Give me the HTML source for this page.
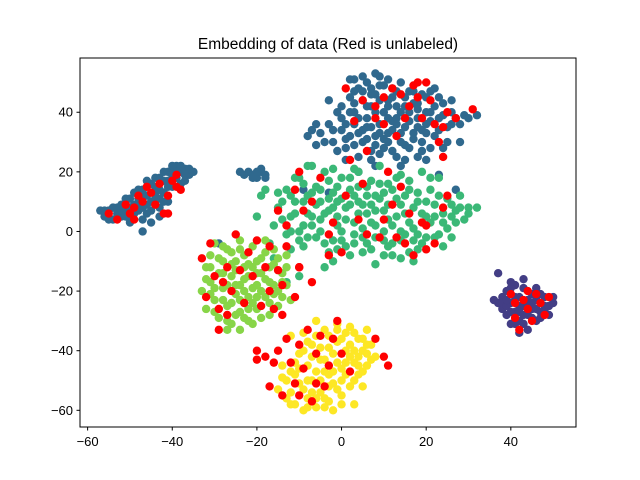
<!DOCTYPE html>
<html><head><meta charset="utf-8"><style>
body{margin:0;background:#fff}
svg{display:block;font-family:"Liberation Sans","DejaVu Sans",sans-serif}
</style></head><body>
<svg id="chart" width="640" height="480">
<rect width="640" height="480" fill="#fff"/>
<text x="328" y="49" text-anchor="middle" font-size="15.5">Embedding of data (Red is unlabeled)</text>
<g id="marks"></g>
<rect x="80" y="58" width="496" height="369" fill="none" stroke="#000" stroke-width="1"/>
<g id="axes"></g>
</svg>
<script>
const xTicks=[-60,-40,-20,0,20,40];
const yTicks=[40,20,0,-20,-40,-60];
const clusterNames=['top-blue','left-blue','small-blue','green','yellow-green','yellow','purple'];
const clusterColors=['#30698e','#30698e','#30698e','#3bb877','#88d548','#fde725','#433e85'];
const topBlue=[[-8,32],[-5,33],[-3,36],[-2,30],[0,34],[0,38],[0,42],[1,28],[2,45],[2,32],[3,36],[3,40],[4,48],[4,25],[5,30],[5,34],[5,44],[6,38],[6,50],[7,27],[7,42],[8,32],[8,46],[8,22],[9,36],[9,52],[10,40],[10,28],[11,44],[11,33],[12,48],[12,37],[13,25],[13,42],[14,30],[14,50],[15,35],[15,45],[16,40],[16,28],[17,47],[17,33],[18,38],[18,43],[19,30],[20,45],[20,36],[21,40],[22,32],[22,48],[23,38],[24,43],[24,28],[25,35],[26,40],[27,38],[29,39],[32,39],[28,30],[-3,44],[1,24],[4,20],[20,24],[23,19],[27,14],[-3,13],[-9,14],[-1,40],[6,35],[11,30],[15,24],[9,49],[3,51],[-6,36],[13,38],[19,34],[21,28],
[-4,30],[-2,34],[-1,27],[1,31],[1,36],[2,40],[3,29],[3,43],[4,33],[4,38],[5,47],[6,31],[6,42],[7,35],[7,46],[8,29],[8,40],[9,33],[9,44],[10,31],[10,49],[11,38],[11,42],[12,27],[12,34],[12,45],[13,36],[13,47],[14,33],[14,40],[15,29],[15,42],[16,37],[16,47],[17,31],[17,43],[18,35],[18,41],[19,46],[19,27],[20,33],[20,40],[21,37],[21,47],[22,42],[23,34],[23,45],[24,39],[25,30],[26,36],[26,44],[28,36],[30,38],[7,24],[9,26],[14,22],[18,25],[-6,29],[-7,34],[2,51],[5,52],[8,53],[11,51],[7,48],[3,47]];
const leftBlue=[[-57,7],[-56,5],[-55,7],[-54,4],[-54,8],[-53,6],[-52,9],[-52,5],[-51,7],[-50,11],[-50,5],[-49,9],[-49,13],[-48,7],[-48,11],[-47,14],[-47,4],[-46,9],[-46,12],[-45,16],[-45,7],[-44,11],[-44,15],[-43,18],[-43,8],[-42,13],[-42,17],[-41,20],[-41,10],[-40,15],[-40,21],[-39,18],[-39,22],[-38,20],[-38,16],[-37,21],[-36,19],[-35,20],[-43,5],[-47,0],[-45,3],[-50,3],
[-56,7],[-55,4],[-53,8],[-52,7],[-51,5],[-51,11],[-50,8],[-49,6],[-48,9],[-48,14],[-47,8],[-47,12],[-46,6],[-46,17],[-45,10],[-44,13],[-44,18],[-43,11],[-43,14],[-42,10],[-42,20],[-41,15],[-41,17],[-40,19],[-40,22],[-39,20],[-38,22],[-37,19],[-36,21],[-37,17]];
const smallBlue=[[-22,20],[-21,19],[-19,20],[-20,18],[-18,19],[-24,20],[-19,21],[-29,-4],[-23,19],[-20,20],[-18,18],[-21,18]];
const green=[[-17,-4],[-16,2],[-15,8],[-15,13],[-13,-1],[-13,14],[-12,5],[-11,10],[-10,0],[-10,18],[-9,-5],[-8,6],[-8,12],[-7,22],[-6,-2],[-6,15],[-5,4],[-5,10],[-4,20],[-3,-7],[-3,7],[-2,13],[-1,2],[0,18],[0,-3],[1,8],[2,14],[2,-8],[3,3],[4,20],[4,10],[5,-2],[6,6],[6,15],[7,-6],[8,2],[8,12],[9,22],[10,-3],[10,7],[11,16],[12,-8],[12,2],[13,11],[14,-3],[14,19],[15,6],[16,-7],[16,14],[17,1],[18,10],[19,-4],[19,20],[20,5],[21,14],[22,-2],[22,9],[23,18],[24,3],[25,11],[26,-2],[27,7],[28,12],[29,4],[30,8],[32,8],[-16,-9],[-10,-15],[-13,-17],[-2,-10],[8,-11],[17,-10],[24,-5],[-18,14],[-20,5],[-19,12],[-12,-6],[-4,-12],[3,-4],[7,9],[11,-5],[-1,10],[18,-1],[26,5],[-7,2],
[-14,4],[-14,10],[-12,0],[-12,12],[-11,6],[-10,-3],[-9,2],[-9,10],[-9,16],[-8,-2],[-7,5],[-7,13],[-6,9],[-5,0],[-5,14],[-4,-4],[-4,6],[-3,11],[-3,17],[-2,-3],[-2,8],[-1,5],[-1,15],[0,0],[0,11],[1,-5],[1,4],[2,9],[2,18],[3,-1],[3,12],[4,6],[4,15],[5,1],[5,9],[6,-4],[6,12],[7,3],[7,17],[8,-2],[8,7],[9,11],[9,16],[10,0],[10,13],[11,4],[11,9],[12,-4],[12,14],[13,5],[13,18],[14,0],[14,9],[15,-1],[15,12],[16,3],[16,17],[17,-3],[17,8],[18,13],[18,-6],[19,6],[20,10],[20,-2],[21,3],[21,18],[22,5],[23,12],[23,-1],[24,6],[25,1],[26,9],[27,3],[28,8],[30,6],[-1,-6],[5,-7],[10,-8],[14,-9],[3,21],[-11,18],[-8,22],[-2,21]];
const yellowGreen=[[-33,-20],[-32,-12],[-32,-26],[-31,-8],[-31,-17],[-30,-23],[-29,-14],[-29,-29],[-28,-10],[-28,-19],[-27,-25],[-27,-6],[-26,-15],[-26,-31],[-25,-21],[-25,-10],[-24,-27],[-24,-3],[-23,-16],[-23,-8],[-22,-22],[-22,-30],[-21,-12],[-21,-5],[-20,-18],[-20,-26],[-19,-9],[-19,-14],[-18,-22],[-18,-3],[-17,-17],[-17,-28],[-16,-11],[-16,-6],[-15,-20],[-15,-25],[-14,-14],[-13,-8],[-13,-18],[-12,-23],[-27,-33],[-24,-33],[-30,-4],[-21,-31],[-25,-18],[-20,-22],[-23,-12],
[-31,-12],[-30,-19],[-30,-27],[-29,-9],[-28,-23],[-28,-14],[-27,-18],[-27,-30],[-26,-7],[-26,-24],[-25,-13],[-25,-28],[-24,-6],[-24,-18],[-24,-23],[-23,-20],[-23,-29],[-22,-11],[-22,-15],[-22,-26],[-21,-19],[-21,-24],[-20,-10],[-20,-14],[-19,-20],[-19,-29],[-18,-7],[-18,-16],[-17,-12],[-17,-24],[-16,-18],[-16,-21],[-15,-9],[-14,-22],[-14,-17],[-13,-12],[-26,-11],[-28,-5],[-32,-16],[-31,-21]];
const yellow=[[-15,-53],[-13,-56],[-12,-47],[-11,-58],[-10,-41],[-10,-51],[-9,-34],[-8,-45],[-8,-56],[-7,-38],[-7,-50],[-6,-59],[-5,-43],[-5,-54],[-4,-33],[-4,-47],[-3,-39],[-3,-57],[-2,-51],[-1,-31],[-1,-44],[0,-36],[0,-55],[1,-48],[1,-40],[2,-32],[2,-52],[3,-44],[4,-36],[4,-48],[5,-40],[5,-52],[6,-33],[6,-45],[7,-38],[8,-42],[-14,-45],[-12,-35],[-6,-30],[3,-58],[-2,-60],[-9,-60],[-3,-48],[2,-42],
[-13,-50],[-12,-54],[-11,-44],[-11,-48],[-10,-46],[-9,-40],[-9,-53],[-8,-37],[-8,-50],[-7,-42],[-7,-54],[-6,-35],[-6,-47],[-6,-56],[-5,-39],[-5,-50],[-4,-43],[-4,-56],[-3,-35],[-3,-52],[-2,-41],[-2,-47],[-1,-37],[-1,-53],[0,-46],[0,-50],[1,-34],[1,-44],[2,-38],[3,-34],[3,-40],[3,-50],[4,-42],[4,-45],[5,-36],[6,-41],[6,-38],[-14,-49],[-12,-58],[-8,-59],[-4,-59],[0,-58],[-1,-33],[5,-47],[7,-43]];
const purple=[[37,-24],[38,-22],[38,-26],[39,-20],[39,-28],[40,-24],[40,-31],[41,-18],[41,-27],[42,-22],[42,-30],[43,-25],[43,-19],[44,-28],[44,-33],[45,-21],[45,-26],[46,-30],[46,-23],[47,-27],[48,-22],[48,-25],[49,-28],[50,-24],[37,-14],[42,-34],
[38,-24],[39,-25],[39,-23],[40,-27],[40,-19],[41,-22],[41,-31],[42,-25],[42,-27],[43,-28],[43,-31],[44,-23],[44,-24],[45,-24],[45,-29],[46,-26],[47,-21],[47,-29],[48,-27],[49,-25],[50,-22],[36,-23],[40,-17],[43,-16],[46,-19]];
const unlabeled=[[3,37],[5,44],[10,45],[12,48],[14,46],[17,49],[18,45],[18,50],[20,50],[21,44],[19,38],[22,36],[24,35],[25,40],[27,38],[31,41],[23,30],[24,25],[15,38],[8,38],[10,36],[13,32],[8,42],[6,27],[2,24],[11,20],[1,48],[16,42],
[-55,6],[-53,4],[-51,9],[-50,6],[-49,8],[-48,12],[-47,10],[-46,15],[-45,13],[-44,9],[-43,16],[-42,6],[-41,12],[-40,17],[-39,19],[-38,14],[-41,6],[-49,4],[-39,15],
[-17,-5],[-15,7],[-13,2],[-11,14],[-9,7],[-7,10],[-5,18],[-2,3],[1,12],[0,-7],[4,4],[6,-1],[5,16],[9,-2],[10,4],[12,9],[13,-2],[14,15],[15,-4],[16,6],[17,-8],[19,3],[20,2],[22,-4],[24,8],[25,12],[20,-6],[-3,-8],[-10,-12],[-14,-18],[-7,-17],[-3,-1],[-10,20],
[-33,-9],[-31,-4],[-30,-15],[-32,-22],[-29,-26],[-28,-17],[-27,-12],[-26,-20],[-25,-1],[-24,-13],[-23,-24],[-22,-7],[-21,-15],[-20,-3],[-19,-25],[-18,-12],[-17,-20],[-16,-26],[-15,-13],[-14,-28],[-13,-5],[-11,-22],[-10,-12],[-27,-28],[-29,-33],
[-17,-52],[-16,-44],[-15,-40],[-14,-55],[-13,-36],[-12,-44],[-11,-51],[-10,-38],[-9,-46],[-8,-33],[-7,-57],[-6,-41],[-5,-35],[-4,-52],[-3,-45],[-2,-36],[0,-41],[2,-47],[-6,-51],[-18,-42],[-20,-40],[-20,-43],[-10,-55],[10,-42],[11,-45],[8,-36],[-1,-30],
[40,-21],[41,-29],[42,-33],[43,-23],[44,-26],[45,-30],[46,-21],[47,-24],[48,-28],[49,-22],[41,-24],[44,-20]];
const clusters=[topBlue,leftBlue,smallBlue,green,yellowGreen,yellow,purple];

const X0=80,X1=576,Y0=58,Y1=427,XMIN=-61.8,XMAX=55.4,YMIN=-65.6,YMAX=58.2;
function sx(v){return X0+(v-XMIN)/(XMAX-XMIN)*(X1-X0);}
function sy(v){return Y1-(v-YMIN)/(YMAX-YMIN)*(Y1-Y0);}
const NS='http://www.w3.org/2000/svg';
const marks=document.getElementById('marks');
function dot(p,color,name){
  const c=document.createElementNS(NS,'circle');
  c.setAttribute('cx',sx(p[0]));c.setAttribute('cy',sy(p[1]));c.setAttribute('r',4.2);c.setAttribute('fill',color);
  
  
  marks.appendChild(c);
}
clusters.forEach((cl,i)=>cl.forEach(p=>dot(p,clusterColors[i],clusterNames[i]+'-point')));
unlabeled.forEach(p=>dot(p,'#ff0000','unlabeled-point'));

const axes=document.getElementById('axes');
xTicks.forEach(t=>{
  const x=sx(t);
  const l=document.createElementNS(NS,'line');
  l.setAttribute('x1',x);l.setAttribute('x2',x);l.setAttribute('y1',427);l.setAttribute('y2',430.5);l.setAttribute('stroke','#000');
  
  
  axes.appendChild(l);
  const tx=document.createElementNS(NS,'text');
  tx.setAttribute('x',x);tx.setAttribute('y',446);tx.setAttribute('text-anchor','middle');tx.setAttribute('font-size','13');
  tx.textContent=t<0?'\u2212'+(-t):String(t);
  
  
  axes.appendChild(tx);
});
yTicks.forEach(t=>{
  const y=sy(t);
  const l=document.createElementNS(NS,'line');
  l.setAttribute('x1',76.5);l.setAttribute('x2',80);l.setAttribute('y1',y);l.setAttribute('y2',y);l.setAttribute('stroke','#000');
  
  
  axes.appendChild(l);
  const tx=document.createElementNS(NS,'text');
  tx.setAttribute('x',73);tx.setAttribute('y',y+4.5);tx.setAttribute('text-anchor','end');tx.setAttribute('font-size','13');
  tx.textContent=t<0?'\u2212'+(-t):String(t);
  
  
  axes.appendChild(tx);
});
</script>
</body></html>
